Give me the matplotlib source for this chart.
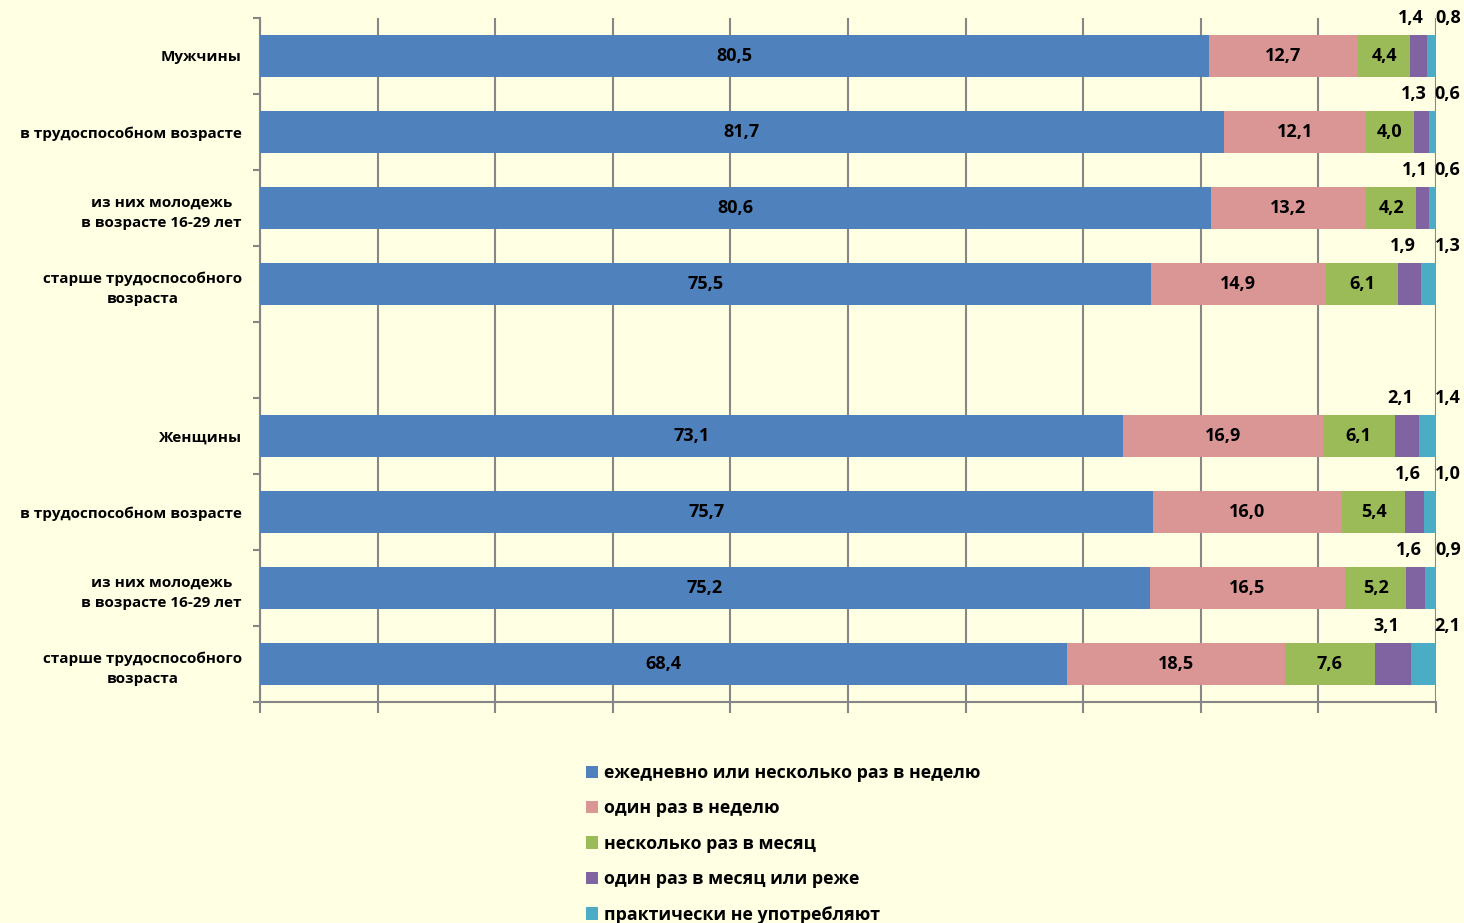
import matplotlib.pyplot as plt
import numpy as np

plt.rcParams['font.family'] = ['Open Sans', 'DejaVu Sans']
plt.rcParams['font.weight'] = 'bold'

categories = ['Мужчины', 'в трудоспособном возрасте', 'из них молодежь\nв возрасте 16-29 лет',
              'старше трудоспособного\nвозраста', '',
              'Женщины', 'в трудоспособном возрасте', 'из них молодежь\nв возрасте 16-29 лет',
              'старше трудоспособного\nвозраста']
series_names = ['ежедневно или несколько раз в неделю', 'один раз в неделю',
                'несколько раз в месяц', 'один раз в месяц или реже', 'практически не употребляют']
daily = [80.5, 81.7, 80.6, 75.5, np.nan, 73.1, 75.7, 75.2, 68.4]
weekly = [12.7, 12.1, 13.2, 14.9, np.nan, 16.9, 16.0, 16.5, 18.5]
monthly = [4.4, 4.0, 4.2, 6.1, np.nan, 6.1, 5.4, 5.2, 7.6]
rarely = [1.4, 1.3, 1.1, 1.9, np.nan, 2.1, 1.6, 1.6, 3.1]
never = [0.8, 0.6, 0.6, 1.3, np.nan, 1.4, 1.0, 0.9, 2.1]
colors = ['#4F81BD', '#D99694', '#9BBB59', '#8064A2', '#4BACC6']

bg = '#FFFFE3'
fig = plt.figure(figsize=(14.64, 9.23), dpi=100, facecolor=bg)
ax = fig.add_axes([260 / 1464, 1 - 702 / 923, (1436 - 260) / 1464, (702 - 18) / 923])
ax.set_facecolor(bg)

y = np.arange(len(categories))
data = [np.array(d, dtype=float) for d in (daily, weekly, monthly, rarely, never)]
totals = np.nansum(data, axis=0)
totals[totals == 0] = 1
# 100% stacked
shares = [np.nan_to_num(d) / totals * 100 for d in data]
left = np.zeros(len(categories))
lefts = []
for v, c, name in zip(shares, colors, series_names):
    ax.barh(y, v, left=left, height=0.55, color=c, label=name, zorder=3)
    lefts.append(left.copy())
    left = left + v

for i in range(len(categories)):
    if np.isnan(daily[i]):
        continue
    for k in range(5):
        txt = f'{data[k][i]:.1f}'.replace('.', ',')
        mid = lefts[k][i] + shares[k][i] / 2
        if k < 3:
            ax.text(mid, y[i], txt, ha='center', va='center', fontsize=13, zorder=4)
        elif k == 3:
            ax.text(mid - 0.6, y[i] - 0.5, txt, ha='center', va='center', fontsize=13)
        else:
            ax.text(101, y[i] - 0.5, txt, ha='center', va='center', fontsize=13, clip_on=False)

ax.set_xlim(0, 100)
ax.set_ylim(8.5, -0.5)
ax.set_xticks(np.arange(0, 101, 10))
ax.set_xticklabels([])
ax.set_yticks(np.arange(-0.5, 9, 1))
ax.set_yticklabels([])
ax.set_yticks(y, minor=True)
ax.set_yticklabels(categories, minor=True, fontsize=11, ha='right', multialignment='center',
                   linespacing=1.55)
ax.tick_params(axis='y', which='minor', length=0, pad=13)
ax.tick_params(axis='y', which='major', length=5, color='#868686', width=1.5)
ax.tick_params(axis='x', length=8, color='#868686', width=1.5, direction='out')
ax.grid(axis='x', color='#868686', linewidth=1.5, zorder=0)
for s in ['top', 'right']:
    ax.spines[s].set_visible(False)
for s in ['left', 'bottom']:
    ax.spines[s].set_color('#868686')
    ax.spines[s].set_linewidth(1.5)

fig.legend(loc='upper left', bbox_to_anchor=(570 / 1464, 1 - 748 / 923), frameon=False,
           fontsize=12.8, handlelength=0.7, handleheight=0.7, handletextpad=0.3,
           labelspacing=0.98)

fig.savefig('out.png', dpi=100, facecolor=bg)
